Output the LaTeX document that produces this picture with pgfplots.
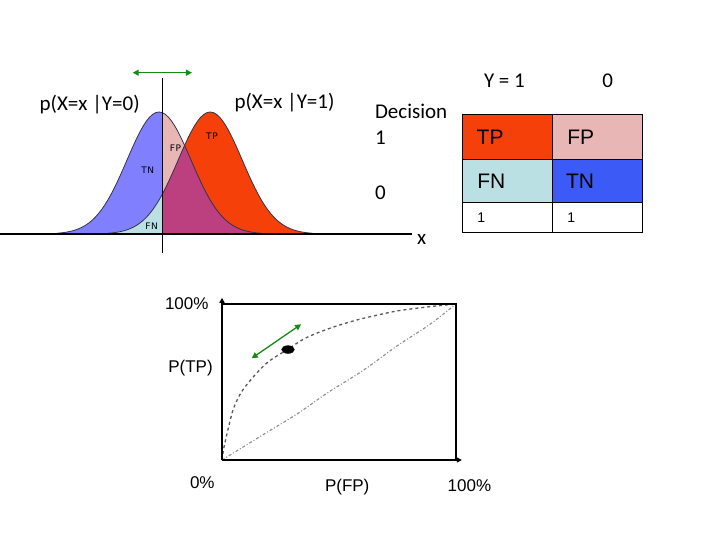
\documentclass[border=0pt]{standalone}
\usepackage{pgfplots}
\pgfplotsset{compat=1.18}
\usepackage{pgfplotstable}
\usepackage{fontspec}
\setmainfont{Carlito}
\newfontfamily\arial{Liberation Sans}
\newfontfamily\dejavu{DejaVu Sans}
\usetikzlibrary{arrows.meta}
\definecolor{tnblue}{RGB}{128,128,255}
\definecolor{fppink}{RGB}{232,182,180}
\definecolor{fncyan}{RGB}{186,224,228}
\definecolor{tpred}{RGB}{245,64,10}
\definecolor{ovpurple}{RGB}{188,64,128}
\definecolor{tnbluetab}{RGB}{60,90,245}
\definecolor{arrowgreen}{RGB}{20,140,20}
\definecolor{outline}{RGB}{55,50,70}

% p(X=x | Y=0): mean 0, sd 1
\pgfplotstableread{
x y
-3.2 0.0060
-3.1 0.0082
-3.0 0.0111
-2.9 0.0149
-2.8 0.0198
-2.7 0.0261
-2.6 0.0340
-2.5 0.0439
-2.4 0.0561
-2.3 0.0710
-2.2 0.0889
-2.1 0.1103
-2.0 0.1353
-1.9 0.1645
-1.8 0.1979
-1.7 0.2357
-1.6 0.2780
-1.5 0.3247
-1.4 0.3753
-1.3 0.4296
-1.2 0.4868
-1.1 0.5461
-1.0 0.6065
-0.9 0.6670
-0.8 0.7261
-0.7 0.7827
-0.6 0.8353
-0.5 0.8825
-0.4 0.9231
-0.3 0.9560
-0.2 0.9802
-0.1 0.9950
0.0 1.0000
0.1 0.9950
0.2 0.9802
0.3 0.9560
0.4 0.9231
0.5 0.8825
0.6 0.8353
0.7 0.7827
0.8 0.7261
0.9 0.6670
1.0 0.6065
1.1 0.5461
1.2 0.4868
1.3 0.4296
1.4 0.3753
1.5 0.3247
1.6 0.2780
1.7 0.2357
1.8 0.1979
1.9 0.1645
2.0 0.1353
2.1 0.1103
2.2 0.0889
2.3 0.0710
2.4 0.0561
2.5 0.0439
2.6 0.0340
2.7 0.0261
2.8 0.0198
2.9 0.0149
3.0 0.0111
3.1 0.0082
3.2 0.0060
}\bluetab

% p(X=x | Y=1): mean 1.6, sd 1
\pgfplotstableread{
x y
-1.6 0.0060
-1.5 0.0082
-1.4 0.0111
-1.3 0.0149
-1.2 0.0198
-1.1 0.0261
-1.0 0.0340
-0.9 0.0439
-0.8 0.0561
-0.7 0.0710
-0.6 0.0889
-0.5 0.1103
-0.4 0.1353
-0.3 0.1645
-0.2 0.1979
-0.1 0.2357
0.0 0.2780
0.1 0.3247
0.2 0.3753
0.3 0.4296
0.4 0.4868
0.5 0.5461
0.6 0.6065
0.7 0.6670
0.8 0.7261
0.9 0.7827
1.0 0.8353
1.1 0.8825
1.2 0.9231
1.3 0.9560
1.4 0.9802
1.5 0.9950
1.6 1.0000
1.7 0.9950
1.8 0.9802
1.9 0.9560
2.0 0.9231
2.1 0.8825
2.2 0.8353
2.3 0.7827
2.4 0.7261
2.5 0.6670
2.6 0.6065
2.7 0.5461
2.8 0.4868
2.9 0.4296
3.0 0.3753
3.1 0.3247
3.2 0.2780
3.3 0.2357
3.4 0.1979
3.5 0.1645
3.6 0.1353
3.7 0.1103
3.8 0.0889
3.9 0.0710
4.0 0.0561
4.1 0.0439
4.2 0.0340
4.3 0.0261
4.4 0.0198
4.5 0.0149
4.6 0.0111
4.7 0.0082
4.8 0.0060
}\redtab

% overlap (minimum of both) right of the threshold
\pgfplotstableread{
x y
0.1 0.3247
0.2 0.3753
0.3 0.4296
0.4 0.4868
0.5 0.5461
0.6 0.6065
0.7 0.6670
0.8 0.7261
0.9 0.6670
1.0 0.6065
1.1 0.5461
1.2 0.4868
1.3 0.4296
1.4 0.3753
1.5 0.3247
1.6 0.2780
1.7 0.2357
1.8 0.1979
1.9 0.1645
2.0 0.1353
2.1 0.1103
2.2 0.0889
2.3 0.0710
2.4 0.0561
2.5 0.0439
2.6 0.0340
2.7 0.0261
2.8 0.0198
2.9 0.0149
3.0 0.0111
3.1 0.0082
3.2 0.0060
}\mintab

\begin{document}
\begin{tikzpicture}
\path[use as bounding box] (0,0) rectangle (720pt,540pt);

% ---------- top: the two class densities ----------
\begin{axis}[at={(0pt,281.6pt)}, anchor=south west, scale only axis,
  width=420pt, height=195.2pt,
  xmin=-4.96875, xmax=8.15625, ymin=-0.2, ymax=1.4,
  axis lines=none, clip=false]
\addplot[draw=none, fill=tnblue, restrict x to domain=-4:0.15] table {\bluetab} \closedcycle;
\addplot[draw=none, fill=fppink, restrict x to domain=0.05:6] table {\bluetab} \closedcycle;
\addplot[draw=none, fill=fncyan, restrict x to domain=-4:0.15] table {\redtab} \closedcycle;
\addplot[draw=none, fill=tpred, restrict x to domain=0.05:6] table {\redtab} \closedcycle;
\addplot[draw=none, fill=ovpurple] table {\mintab} \closedcycle;
\addplot[outline, line width=0.8pt] table {\bluetab};
\addplot[outline, line width=0.8pt] table {\redtab};
\draw[black, line width=1.4pt] (axis cs:-4.97,0) -- (axis cs:7.91,0);
\draw[black, line width=0.9pt] (axis cs:0.1,1.276) -- (axis cs:0.1,-0.153);
\draw[arrowgreen, line width=1.3pt, {Triangle[length=6pt,width=6pt]}-{Triangle[length=6pt,width=6pt]}]
  (axis cs:-0.822,1.322) -- (axis cs:1.031,1.322);
\end{axis}

% ---------- bottom: ROC ----------
\begin{axis}[at={(222pt,80pt)}, anchor=south west, scale only axis,
  width=234pt, height=156pt,
  xmin=0, xmax=1, ymin=0, ymax=1,
  axis lines=none, clip=false]
\addplot[black!65, line width=1.3pt, dash pattern=on 3pt off 3pt, smooth] coordinates {
 (0,0) (0.007,0.070) (0.020,0.160) (0.048,0.325) (0.084,0.438) (0.141,0.545) (0.198,0.630)
 (0.276,0.705) (0.355,0.780) (0.440,0.833) (0.517,0.872) (0.604,0.908)
 (0.747,0.955) (0.889,0.983) (1,1)};
\addplot[black!45, line width=1.1pt, dash pattern=on 3pt off 2pt on 1pt off 2pt, smooth] coordinates {
 (0,0) (0.184,0.170) (0.326,0.300) (0.450,0.430) (0.604,0.575) (0.747,0.730) (0.889,0.870) (1,1)};
\addplot[only marks, mark=*, mark size=3.9pt, mark options={xscale=1.65, fill=black, draw=black}]
  coordinates {(0.282,0.708)};
\draw[black, line width=1.3pt] (axis cs:0,1) -- (axis cs:1,1) -- (axis cs:1,0);
\draw[black, line width=1.6pt, -{Triangle[length=5pt,width=5pt]}] (axis cs:0,0) -- (axis cs:0,1.04);
\draw[black, line width=1.6pt, -{Triangle[length=5pt,width=5pt]}] (axis cs:0,0) -- (axis cs:1.025,0);
\draw[arrowgreen, line width=1.3pt, {Triangle[length=6pt,width=6pt]}-{Triangle[length=6pt,width=6pt]}]
  (axis cs:0.127,0.652) -- (axis cs:0.338,0.870);
\end{axis}

% ---------- text and table ----------
\begin{scope}[shift={(0pt,540pt)}, x=1pt, y=-1pt]
\tikzset{every node/.style={inner sep=0pt, outer sep=0pt}}
\def\big{\fontsize{21}{25}\selectfont}
\node[anchor=base] at (89.7,110.7) {\big p(X=x |Y=0)};
\node[anchor=base] at (284.5,108.3) {\big p(X=x |Y=1)};
\node[anchor=base west] at (417,245) {\big x};
\node[anchor=base west] at (375,119) {\big Decision};
\node[anchor=base west] at (375,145) {\big 1};
\node[anchor=base west] at (375,199.3) {\big 0};
\node[anchor=base west] at (484,87.3) {\big Y = 1};
\node[anchor=base west] at (602.3,87.3) {\big 0};

\def\tiny{\dejavu\fontsize{9}{10}\selectfont}
\node at (147.8,170.3) {\tiny T\kern0.6pt N};
\node at (175.5,148) {\tiny F\kern0.6pt P};
\node at (212,136.5) {\tiny T\kern0.6pt P};
\node at (151.7,226.3) {\tiny F\kern0.6pt N};

% confusion table
\fill[tpred] (462.3,114.3) rectangle (552.7,159.3);
\fill[fppink] (552.7,114.3) rectangle (642.7,159.3);
\fill[fncyan] (462.3,159.3) rectangle (552.7,202.7);
\fill[tnbluetab] (552.7,159.3) rectangle (642.7,202.7);
\draw[black, line width=1pt] (462.3,114.3) rectangle (642.7,232.3);
\draw[black, line width=1pt] (552.7,114.3) -- (552.7,232.3);
\draw[black, line width=1pt] (462.3,159.3) -- (642.7,159.3);
\draw[black, line width=1pt] (462.3,202.7) -- (642.7,202.7);
\def\cell{\arial\fontsize{21}{24}\selectfont}
\node[anchor=base west] at (476.7,145) {\cell TP};
\node[anchor=base west] at (567.3,145) {\cell FP};
\node[anchor=base west] at (477.3,188.3) {\cell FN};
\node[anchor=base west] at (566,188.3) {\cell TN};
\node[anchor=base west] at (477.3,222.7) {\arial\fontsize{14}{16}\selectfont 1};
\node[anchor=base west] at (567.3,222.7) {\arial\fontsize{14}{16}\selectfont 1};

% ROC labels
\def\roc{\arial\fontsize{17}{20}\selectfont}
\node[anchor=base west] at (165,309.3) {\roc 100\%};
\node[anchor=base west] at (168.3,372.7) {\roc P(TP)};
\node[anchor=base west] at (190,488.3) {\roc 0\%};
\node[anchor=base west] at (325,491.7) {\roc P(FP)};
\node[anchor=base west] at (447.7,491.7) {\roc 100\%};
\end{scope}
\end{tikzpicture}
\end{document}
